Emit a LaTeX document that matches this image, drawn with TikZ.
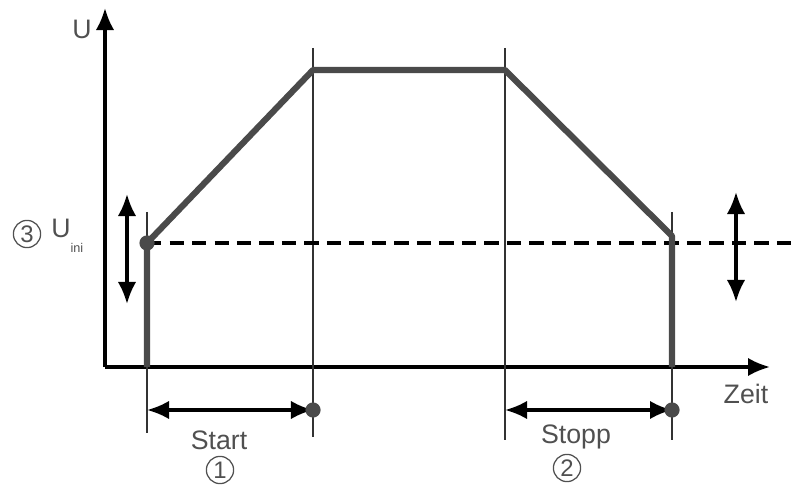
\documentclass[tikz,border=0pt]{standalone}
\usepackage{fontspec}
\setmainfont{Liberation Sans}
\usepackage{xcolor}
\usetikzlibrary{arrows.meta}

\definecolor{txtgray}{HTML}{505050}
\definecolor{curvegray}{HTML}{4A4A4A}

\tikzset{
  lbl/.style={text=txtgray, font=\fontsize{19}{22}\selectfont, inner sep=0pt},
  numcirc/.style={circle, draw=txtgray, line width=0.9pt, minimum size=0.68cm, inner sep=0pt,
                  text=txtgray, font=\fontsize{17}{19}\selectfont},
  axis/.style={->, line width=2.2pt, black},
  guide/.style={line width=1.1pt, black!80},
  ramp/.style={line width=4.4pt, curvegray, line join=round},
  span/.style={<->, line width=2.2pt, black},
  dot/.style={circle, fill=curvegray, minimum size=0.38cm, inner sep=0pt},
}

\begin{document}
\begin{tikzpicture}[>={Latex[length=5.5mm,width=4.6mm]}, x=0.025cm, y=-0.025cm]
  \useasboundingbox (0,0) rectangle (802,491);

  % axes
  \coordinate (O) at (105,367);
  \coordinate (Ytip) at (105,8);
  \coordinate (Xtip) at (770,367);
  \draw [axis] (O) -- (Ytip);
  \draw [axis] (O) -- (Xtip);
  \node [lbl] (U) at (82,29) {U};
  \node [lbl] (Zeit) at (746,394) {Zeit};

  % ramp points
  \coordinate (A) at (147,243);
  \coordinate (B) at (313,70);
  \coordinate (C) at (505,70);
  \coordinate (D) at (672,236);
  \coordinate (Abot) at (147,367);
  \coordinate (Dbot) at (672,367);

  % thin guides
  \draw [guide] (147,212) -- (147,433);
  \draw [guide] (313,48) -- (313,437);
  \draw [guide] (505,48) -- (505,440);
  \draw [guide] (672,212) -- (672,440);

  % dashed U_ini level
  \coordinate (Dashend) at (795,243);
  \draw [line width=2.2pt, black, dash pattern=on 10pt off 6pt] (A) -- (Dashend);

  % voltage curve
  \draw [ramp] (Abot) -- (A) -- (B) -- (C) -- (D) -- (Dbot);
  \node [dot] (Adot) at (A) {};

  % adjustable level
  \coordinate (L1) at (127,194);
  \coordinate (L2) at (127,304);
  \coordinate (R1) at (736,192);
  \coordinate (R2) at (736,302);
  \draw [span] (L1) -- (L2);
  \draw [span] (R1) -- (R2);

  \node [numcirc] (N3) at (27,234) {3};
  \node [lbl, anchor=west] (Uini) at (51,236) {U\raisebox{-1.1ex}{\fontsize{9}{10}\selectfont ini}};

  % start / stop times
  \coordinate (S0) at (147,410);
  \coordinate (S1) at (313,410);
  \coordinate (T0) at (505,410);
  \coordinate (T1) at (672,410);
  \draw [span] (S0) -- (S1);
  \draw [span] (T0) -- (T1);
  \node [dot] (S1dot) at (S1) {};
  \node [dot] (T1dot) at (T1) {};

  \node [lbl] (Start) at (219,440) {Start};
  \node [numcirc] (N1) at (220,470) {1};
  \node [lbl] (Stopp) at (576,437) {Stopp};
  \node [numcirc] (N2) at (567,468) {2};
\end{tikzpicture}
\end{document}
